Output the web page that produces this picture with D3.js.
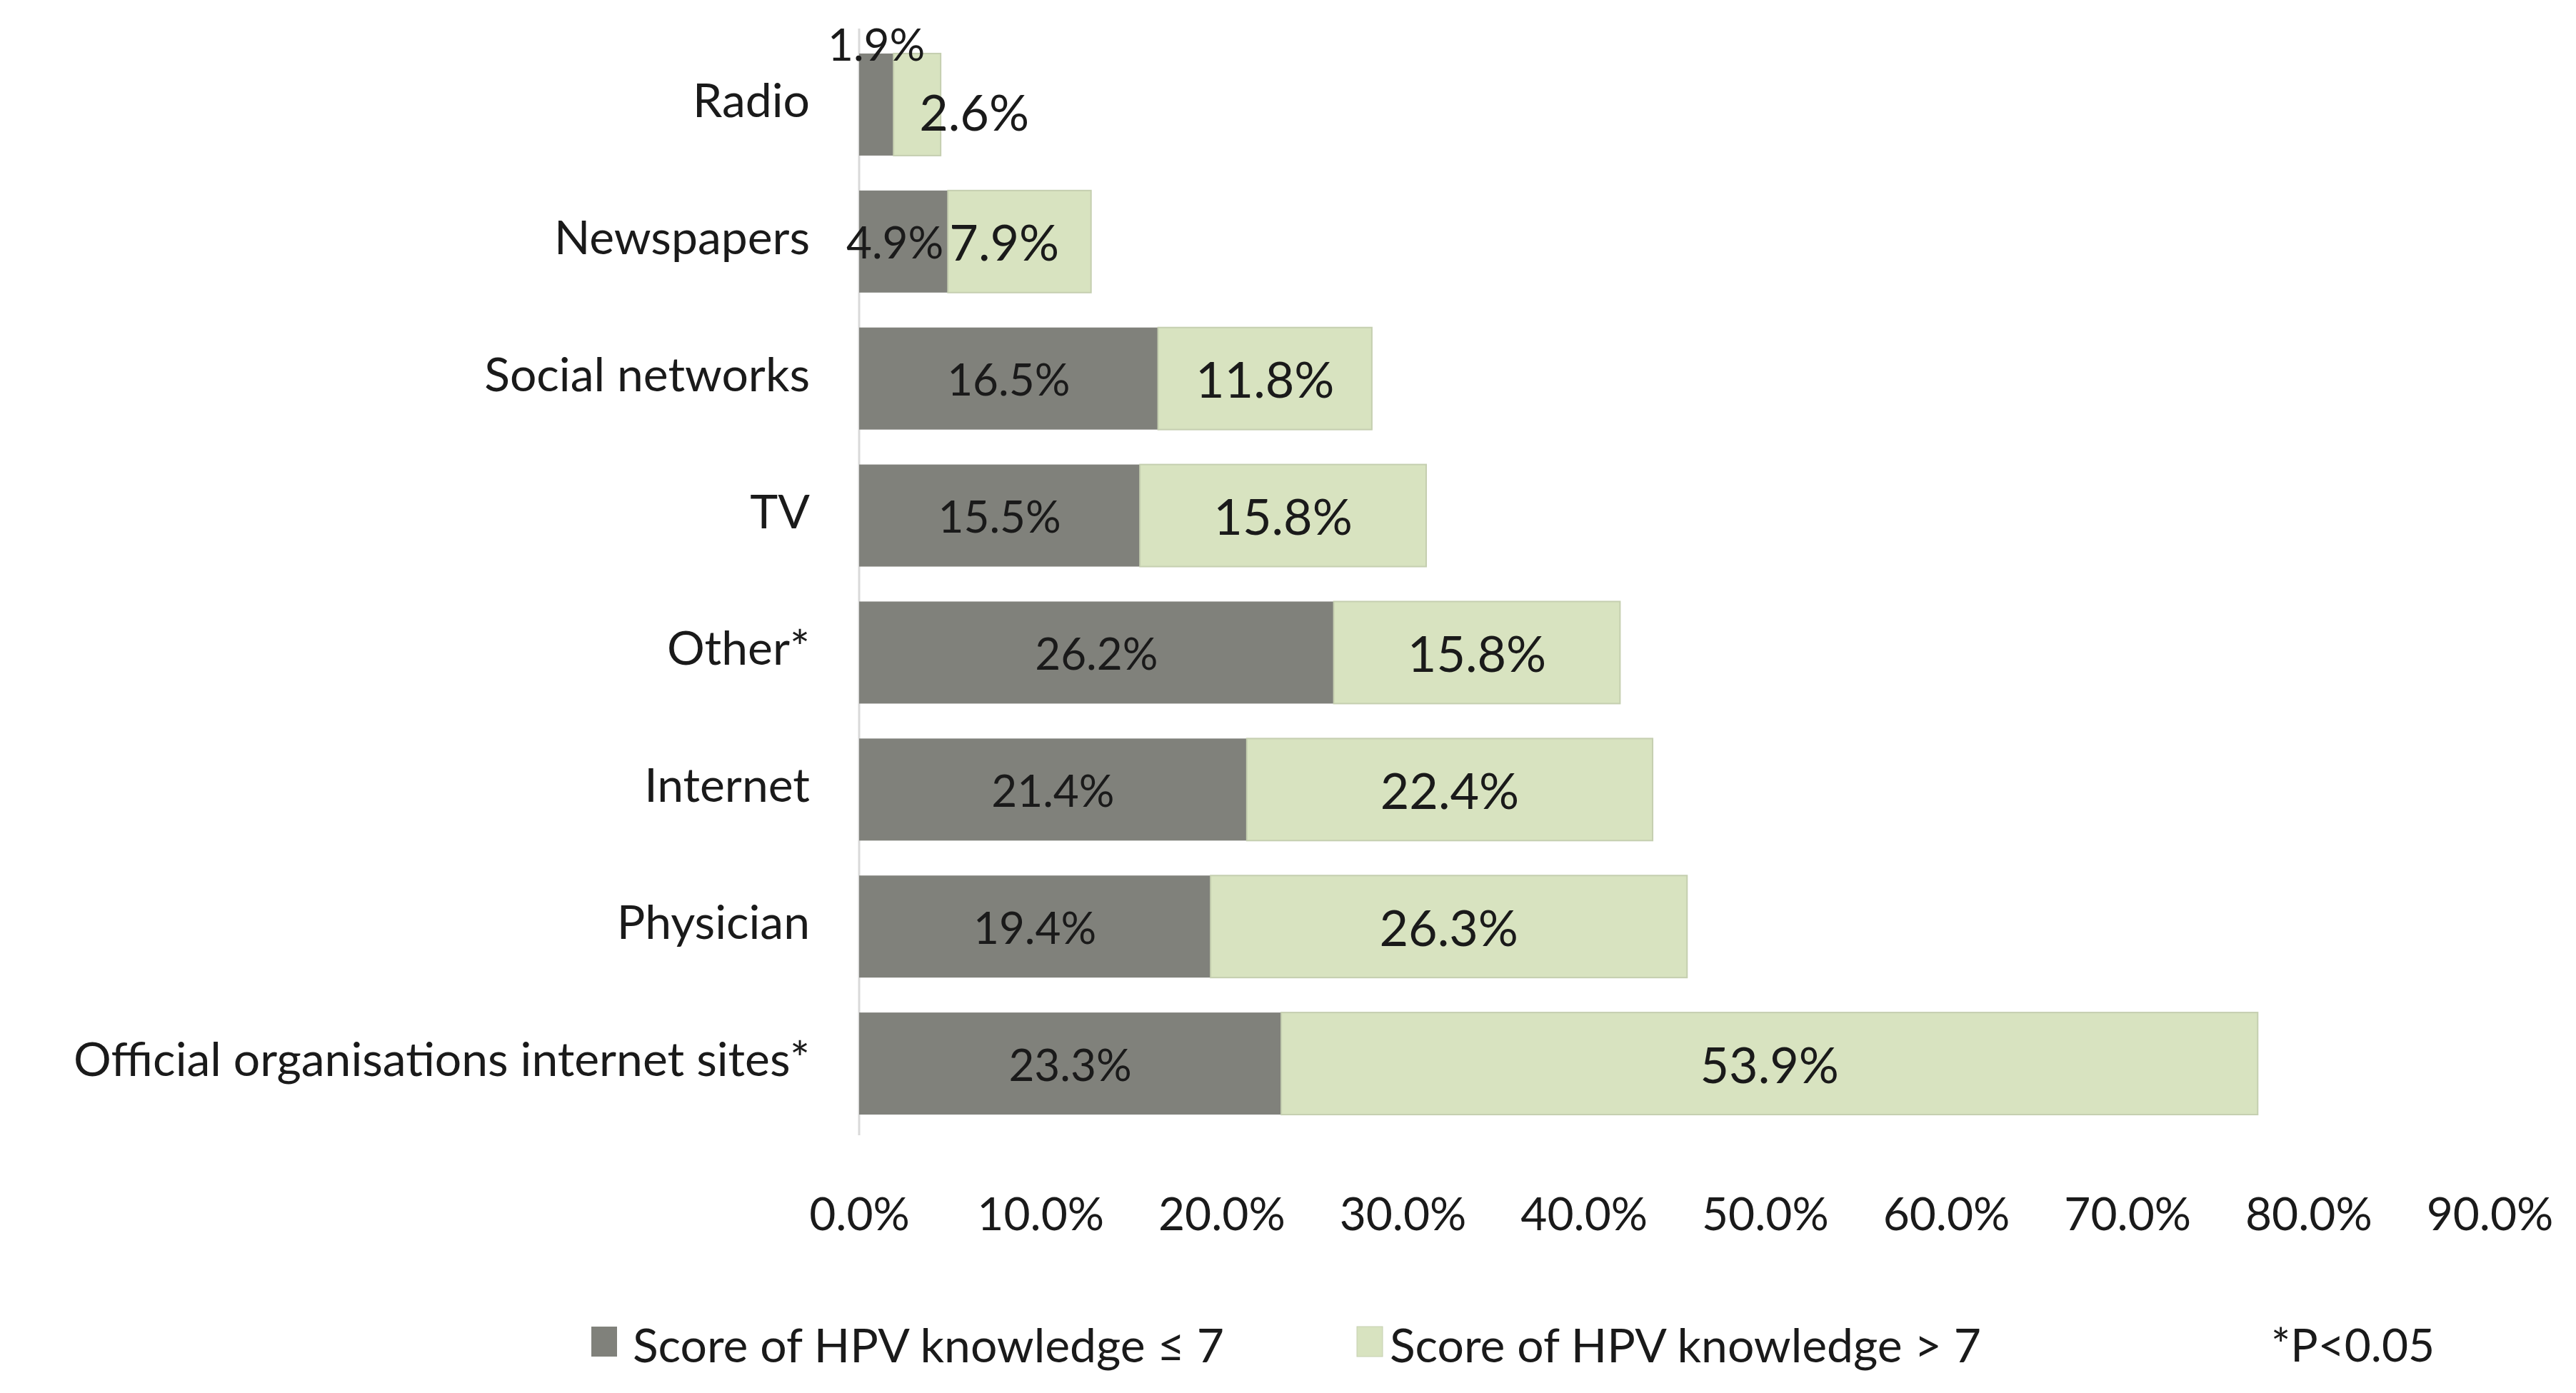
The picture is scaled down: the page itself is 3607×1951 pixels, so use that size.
<!DOCTYPE html><html><head><meta charset="utf-8"><script src="https://cdn.jsdelivr.net/npm/d3@7"></script>
<style>body{margin:0;background:#fff}text{font-family:Lato,"Open Sans",sans-serif;fill:#1a1a1a}</style></head><body>
<svg id="c" width="3607" height="1951"></svg>
<script>
const categories=["Radio","Newspapers","Social networks","TV","Other*","Internet","Physician","Official organisations internet sites*"];
const low=[1.9,4.9,16.5,15.5,26.2,21.4,19.4,23.3];
const high=[2.6,7.9,11.8,15.8,15.8,22.4,26.3,53.9];
const ticks=[0,10,20,30,40,50,60,70,80,90];
const seriesNames=["Score of HPV knowledge \u2264 7","Score of HPV knowledge > 7"];
const colors=["#80817b","#d8e3c0"];
const svg=d3.select("#c");
const x=d3.scaleLinear().domain([0,90]).range([1203,3486]);
const y=d3.scaleBand().domain(categories).range([50,1586]).paddingInner(0.255).paddingOuter(0.13);
svg.append("line").attr("x1",x(0)).attr("x2",x(0)).attr("y1",40).attr("y2",1590).attr("stroke","#d9d9d9").attr("stroke-width",3);
categories.forEach((c,i)=>{
  const y0=y(c),h=y.bandwidth();
  svg.append("rect").attr("x",x(0)).attr("y",y0).attr("width",x(low[i])-x(0)).attr("height",h).attr("fill",colors[0]);
  svg.append("rect").attr("x",x(low[i])).attr("y",y0).attr("width",x(low[i]+high[i])-x(low[i])).attr("height",h).attr("fill",colors[1]).attr("stroke","#c5cfb0").attr("stroke-width",2);
  svg.append("text").attr("x",1134).attr("y",y0+h/2-8).attr("text-anchor","end").attr("dominant-baseline","central").attr("font-size",66).attr("textLength",null).text(c);
  const lx=x(low[i]/2), ly=i===0?y0-14:y0+h/2;
  svg.append("text").attr("x",i===1?x(low[i])-6:lx).attr("y",ly).attr("text-anchor",i===1?"end":"middle").attr("dominant-baseline","central").attr("font-size",62).text(low[i].toFixed(1)+"%");
  svg.append("text").attr("x",i===0?x(low[i]+high[i]/2)+80:(i===1?x(low[i])+2:x(low[i]+high[i]/2))).attr("y",y0+h/2+(i===0?10:0)).attr("text-anchor",i===1?"start":"middle").attr("dominant-baseline","central").attr("font-size",70).text(high[i].toFixed(1)+"%");
});
const ax=svg.append("g").attr("transform","translate(0,1695)").call(d3.axisBottom(x).tickValues(ticks).tickSize(0).tickFormat(d=>d.toFixed(1)+"%"));
ax.select(".domain").remove();
ax.selectAll("text").attr("font-size",64).attr("dy","0").attr("dominant-baseline","central").style("font-family","Lato,sans-serif").attr("fill","#1a1a1a");
const leg=[[828,886],[1900,1946]];
seriesNames.forEach((n,i)=>{
  svg.append("rect").attr("x",leg[i][0]).attr("y",1858).attr("width",36).attr("height",42).attr("fill",colors[i]).attr("stroke",i?"#c5cfb0":"none");
  svg.append("text").attr("x",leg[i][1]).attr("y",1882).attr("dominant-baseline","central").attr("font-size",66).text(n);
});
svg.append("text").attr("x",3180).attr("y",1882).attr("dominant-baseline","central").attr("font-size",64).text("*P<0.05");
</script></body></html>
